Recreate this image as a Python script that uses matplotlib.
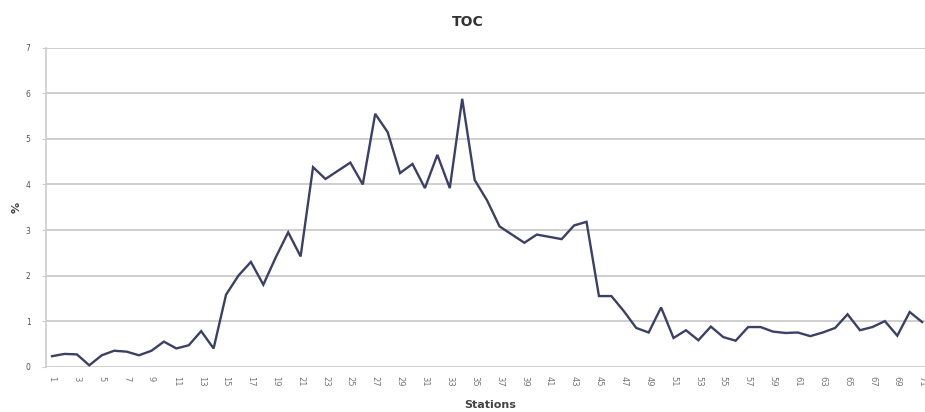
import matplotlib.pyplot as plt

# TOC (%) per station
stations = list(range(1, 72))
toc = [0.23, 0.28, 0.27, 0.03, 0.25, 0.35, 0.33, 0.25, 0.35, 0.55,
       0.40, 0.47, 0.78, 0.40, 1.58, 2.00, 2.30, 1.80, 2.40, 2.95,
       2.42, 4.38, 4.12, 4.30, 4.48, 4.00, 5.55, 5.15, 4.25, 4.45,
       3.92, 4.65, 3.92, 5.88, 4.10, 3.65, 3.08, 2.90, 2.72, 2.90,
       2.85, 2.80, 3.10, 3.18, 1.55, 1.55, 1.22, 0.85, 0.75, 1.30,
       0.63, 0.80, 0.58, 0.88, 0.65, 0.57, 0.87, 0.87, 0.77, 0.74,
       0.75, 0.67, 0.75, 0.85, 1.15, 0.80, 0.87, 1.00, 0.68, 1.20,
       0.98]
y_ticks = [0, 1, 2, 3, 4, 5, 6, 7]

fig = plt.figure(figsize=(9.25, 4.12), dpi=100)
ax = fig.add_axes([0.0495, 0.11, 0.9505, 0.774])

ax.plot(stations, toc, color="#3b4165", linewidth=1.7, solid_joinstyle="miter")

ax.set_xlim(0.5, 71.23)
ax.set_ylim(0, 7)
ax.set_yticks(y_ticks)
ax.set_yticklabels([str(v) for v in y_ticks], fontsize=5.5, color="#555555")
ax.set_xticks(stations[::2])
ax.set_xticklabels([str(s) for s in stations[::2]], rotation=270,
                   fontsize=6, color="#777777")
ax.tick_params(axis="x", length=0, pad=7)
ax.tick_params(axis="y", length=3, color="#cccccc", pad=8)

ax.grid(axis="y", color="#cccccc", linewidth=1.3)
ax.set_axisbelow(True)
for s in ["top", "right", "bottom"]:
    ax.spines[s].set_visible(False)
ax.spines["left"].set_color("#cccccc")
ax.spines["left"].set_linewidth(1.2)

fig.text(468 / 925, 1 - 22 / 412, "TOC", ha="center", va="center",
         fontsize=10, fontweight="bold", color="#333333")
fig.text(490 / 925, 1 - 405 / 412, "Stations", ha="center", va="center",
         fontsize=8, fontweight="bold", color="#444444")
fig.text(17 / 925, 1 - 207 / 412, "%", ha="center", va="center",
         rotation=90, fontsize=8, fontweight="bold", color="#444444")

fig.savefig("out.png", dpi=100, facecolor="white")
